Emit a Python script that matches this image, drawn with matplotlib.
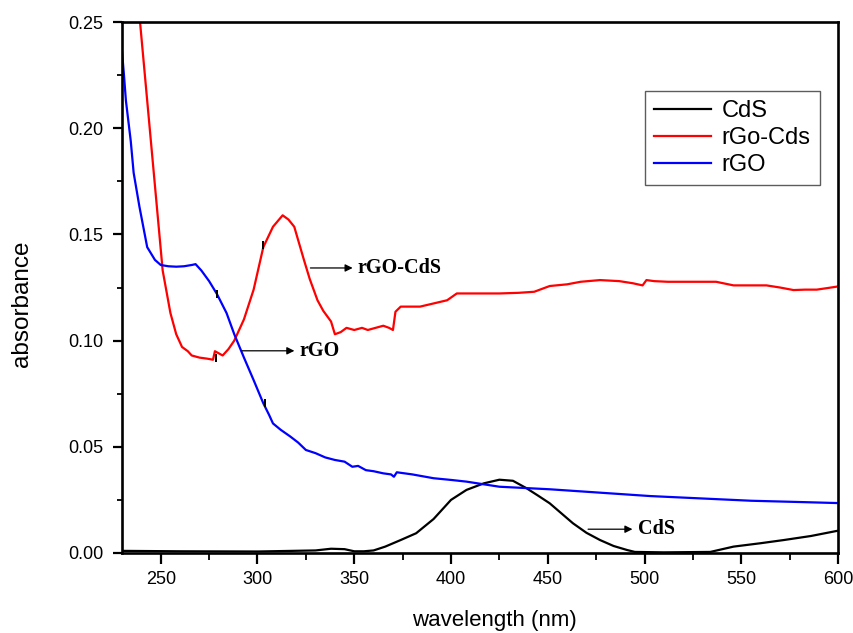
import numpy as np
import matplotlib
matplotlib.use("Agg")
import matplotlib.pyplot as plt
from matplotlib.ticker import MultipleLocator, FormatStrFormatter

plt.rcParams['font.family'] = ['Liberation Sans', 'DejaVu Sans']

# CdS
cds_x = [230, 260, 300, 330, 338, 345, 350, 355, 360, 366, 374, 382, 391, 400, 408, 417,
         425, 432, 439, 445, 451, 457, 463, 470, 477, 484, 491, 495, 510, 534, 546, 560,
         572, 586, 600]
cds_y = [0.001, 0.0008, 0.0007, 0.0012, 0.002, 0.0018, 0.0008, 0.0008, 0.0012, 0.003,
         0.0061, 0.0093, 0.016, 0.025, 0.0297, 0.0328, 0.0345, 0.034, 0.0305, 0.027,
         0.0234, 0.0187, 0.014, 0.0095, 0.0061, 0.0033, 0.0014, 0.0005, 0.0003, 0.0005,
         0.003, 0.0046, 0.0061, 0.008, 0.0105]

# rGO-CdS
rgocds_x = [237, 239.3, 243, 247, 251, 255, 258, 261, 264, 266, 270, 274, 277, 278, 280,
            282, 285, 288, 293, 298, 303, 308, 313, 316, 319, 324, 327, 331, 334, 338, 340,
            343, 346, 350, 354, 357, 361, 365, 368, 370, 371.3, 374, 380, 384, 391, 398,
            403, 410, 415, 425, 435, 443, 451, 460, 467, 477, 487, 494, 499, 501, 505,
            512, 525, 537, 546, 555, 563, 570, 577, 583, 589, 595, 600]
rgocds_y = [0.265, 0.25, 0.213, 0.173, 0.133, 0.113, 0.103, 0.097, 0.095, 0.093, 0.092,
            0.0915, 0.091, 0.095, 0.094, 0.093, 0.096, 0.1, 0.11, 0.124, 0.144, 0.1536,
            0.159, 0.157, 0.1536, 0.138, 0.129, 0.119, 0.114, 0.109, 0.103, 0.104, 0.106,
            0.105, 0.106, 0.105, 0.106, 0.107, 0.106, 0.105, 0.1136, 0.116, 0.116, 0.116,
            0.1175, 0.119, 0.1222, 0.1222, 0.1222, 0.1222, 0.1225, 0.123, 0.1257, 0.1265,
            0.1277, 0.1285, 0.128, 0.127, 0.126, 0.1285, 0.128, 0.1277, 0.1277, 0.1277,
            0.126, 0.126, 0.126, 0.125, 0.1238, 0.124, 0.124, 0.1248, 0.1255]

# rGO
rgo_x = [230, 231, 232, 234.5, 236, 239, 243, 247, 250, 254, 258, 262, 266, 268, 271, 275,
         279, 284, 288, 293, 298, 303, 306, 308, 312, 317, 321, 325, 330, 335, 340, 345,
         349, 352, 356, 360, 365, 369, 370.5, 372, 380, 391, 400, 408, 425, 451, 477, 503,
         529, 555, 580, 600]
rgo_y = [0.236, 0.225, 0.213, 0.194, 0.179, 0.163, 0.144, 0.138, 0.1356, 0.135, 0.1348,
         0.135, 0.1356, 0.136, 0.133, 0.128, 0.122, 0.113, 0.103, 0.092, 0.0814, 0.0705,
         0.065, 0.061, 0.058, 0.0548, 0.052, 0.0485, 0.047, 0.045, 0.0438, 0.043, 0.0406,
         0.041, 0.039, 0.0385, 0.0375, 0.037, 0.0359, 0.038, 0.037, 0.0352, 0.0344, 0.0336,
         0.0312, 0.030, 0.0284, 0.0268, 0.0257, 0.0246, 0.024, 0.0235]

# small black marks sitting on the curves
mark_x = [278.4, 302.6, 304.0, 279.2]
mark_y = [0.092, 0.145, 0.0706, 0.122]

fig = plt.figure(figsize=(8.54, 6.33), dpi=100)
ax = fig.add_axes([0.1429, 0.1264, 0.8384, 0.8388])

ax.plot(cds_x, cds_y, color='black', lw=1.6, label='CdS')
ax.plot(rgocds_x, rgocds_y, color='#ff0000', lw=1.6, label='rGo-Cds')
ax.plot(rgo_x, rgo_y, color='#0000ff', lw=1.6, label='rGO')
ax.plot(mark_x, mark_y, ls='none', marker='|', ms=6, mew=1.4, color='black')

ax.set_xlim(230, 600)
ax.set_ylim(0, 0.25)
ax.xaxis.set_major_locator(MultipleLocator(50))
ax.xaxis.set_minor_locator(MultipleLocator(25))
ax.yaxis.set_major_locator(MultipleLocator(0.05))
ax.yaxis.set_minor_locator(MultipleLocator(0.025))
ax.yaxis.set_major_formatter(FormatStrFormatter('%.2f'))
ax.tick_params(axis='x', which='major', direction='out', length=8, width=1.6,
               labelsize=13, pad=5)
ax.tick_params(axis='x', which='minor', direction='out', length=5, width=1.3)
ax.tick_params(axis='y', which='major', direction='out', length=6.5, width=1.6,
               labelsize=13, pad=7)
ax.tick_params(axis='y', which='minor', direction='out', length=3.5, width=1.3)
for s in ax.spines.values():
    s.set_linewidth(1.9)

ax.set_xlabel('wavelength (nm)', fontsize=16)
ax.set_ylabel('absorbance', fontsize=17.5)
ax.xaxis.set_label_coords(0.52, -0.107)
ax.yaxis.set_label_coords(-0.125, 0.469)

leg = ax.legend(loc='upper right', bbox_to_anchor=(0.975, 0.87), fontsize=17,
                frameon=True, fancybox=False, handlelength=2.4, labelspacing=0.2,
                borderpad=0.4, handletextpad=0.45, borderaxespad=0)
leg.get_frame().set_edgecolor('#333333')
leg.get_frame().set_linewidth(1.0)

# annotations
arrow = dict(arrowstyle='-|>', lw=0.9, color='black', mutation_scale=11)
note_font = dict(family=['Liberation Serif', 'DejaVu Serif'], weight='bold', fontsize=14.5)
ax.annotate('', xy=(350.6, 0.1342), xytext=(325.9, 0.1342), arrowprops=arrow)
ax.text(351.4, 0.1342, 'rGO-CdS', va='center', ha='left', **note_font)
ax.annotate('', xy=(320.5, 0.0952), xytext=(290.3, 0.0952), arrowprops=arrow)
ax.text(321.5, 0.0952, 'rGO', va='center', ha='left', **note_font)
ax.annotate('', xy=(495.2, 0.0112), xytext=(469.4, 0.0112), arrowprops=arrow)
ax.text(496.5, 0.0112, 'CdS', va='center', ha='left', **note_font)

fig.savefig('out.png', dpi=100)
